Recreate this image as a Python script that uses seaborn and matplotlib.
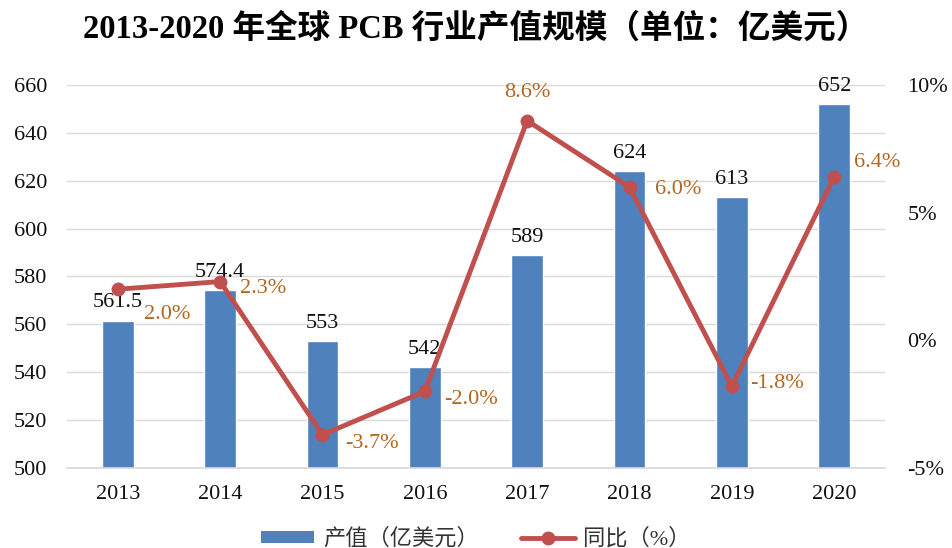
import matplotlib
matplotlib.use("Agg")
import matplotlib.pyplot as plt
import seaborn as sns
import numpy as np
import pandas as pd
from matplotlib.patches import Patch
from matplotlib.lines import Line2D

# data
years = ["2013", "2014", "2015", "2016", "2017", "2018", "2019", "2020"]
output_value = [561.5, 574.4, 553, 542, 589, 624, 613, 652]
yoy_growth = [2.0, 2.3, -3.7, -2.0, 8.6, 6.0, -1.8, 6.4]
value_labels = ["561.5", "574.4", "553", "542", "589", "624", "613", "652"]

sns.set_theme(style="white")
plt.rcParams['font.family'] = ['Liberation Serif', 'Noto Sans CJK SC']

bar_color = "#4F81BD"
line_color = "#C0504D"
pct_color = "#B5651D"
fs = 16

df = pd.DataFrame({"year": years, "value": output_value, "yoy": yoy_growth})

fig = plt.figure(figsize=(9.52, 5.48), dpi=100)
ax = fig.add_axes([0.070, 0.146, 0.860, 0.699])

sns.barplot(data=df, x="year", y="value", color=bar_color, width=0.31,
            saturation=1, ax=ax, zorder=2)
ax.set_ylim(500, 660)
ax.set_yticks(np.arange(500, 661, 20))
ax.set_xlim(-0.5, len(years) - 0.5)
ax.grid(axis="y", color="#D9D9D9", linewidth=1, zorder=0)
ax.set_axisbelow(True)
for s in ["top", "left", "right"]:
    ax.spines[s].set_visible(False)
ax.spines["bottom"].set_color("#D9D9D9")
ax.set_xlabel("")
ax.set_ylabel("")
ax.tick_params(axis="both", labelsize=fs, colors="#111111", length=0)
ax.tick_params(axis="y", pad=14)
ax.tick_params(axis="x", pad=12)

# value labels above bars
for i, (v, lab) in enumerate(zip(output_value, value_labels)):
    ax.annotate(lab, (i, v), xytext=(0, 6), textcoords="offset points",
                ha="center", va="bottom", fontsize=fs, color="#111111")

ax2 = ax.twinx()
idx = np.arange(len(years))
sns.lineplot(x=idx, y=yoy_growth, ax=ax2, color=line_color, linewidth=3.5,
             marker="o", markersize=10, markeredgewidth=0, zorder=3)
ax2.set_ylim(-5, 10)
ax2.set_yticks([-5, 0, 5, 10])
ax2.set_yticklabels(["-5%", "0%", "5%", "10%"])
ax2.tick_params(axis="y", labelsize=fs, colors="#111111", length=0, pad=16)
for s in ["top", "left", "right", "bottom"]:
    ax2.spines[s].set_visible(False)
ax2.grid(False)

# percentage label offsets (points)
offsets = [(19, -18), (14, -5), (16, -6), (14, -6), (0, 20), (18, -2), (13, 2), (14, 10)]
for i, (g, off) in enumerate(zip(yoy_growth, offsets)):
    ha = "center" if off[0] == 0 else "left"
    ax2.annotate(f"{g:.1f}%", (i, g), xytext=off, textcoords="offset points",
                 ha=ha, va="center", fontsize=fs, color=pct_color)

fig.suptitle("2013-2020 年全球 PCB 行业产值规模（单位：亿美元）",
             x=0.5, y=0.975, fontsize=23.5, fontweight="bold", color="black")

handles = [Patch(facecolor=bar_color, edgecolor="none"),
           Line2D([0], [0], color=line_color, linewidth=3.5, marker="o", markersize=9)]
fig.legend(handles, ["产值（亿美元）", "同比（%）"], loc="lower center",
           bbox_to_anchor=(0.5, -0.04), ncol=2, frameon=False, fontsize=fs,
           labelcolor="#333333", handlelength=2.4, handleheight=0.45,
           handletextpad=0.4, columnspacing=1.9)

fig.savefig("out.png", dpi=100)
